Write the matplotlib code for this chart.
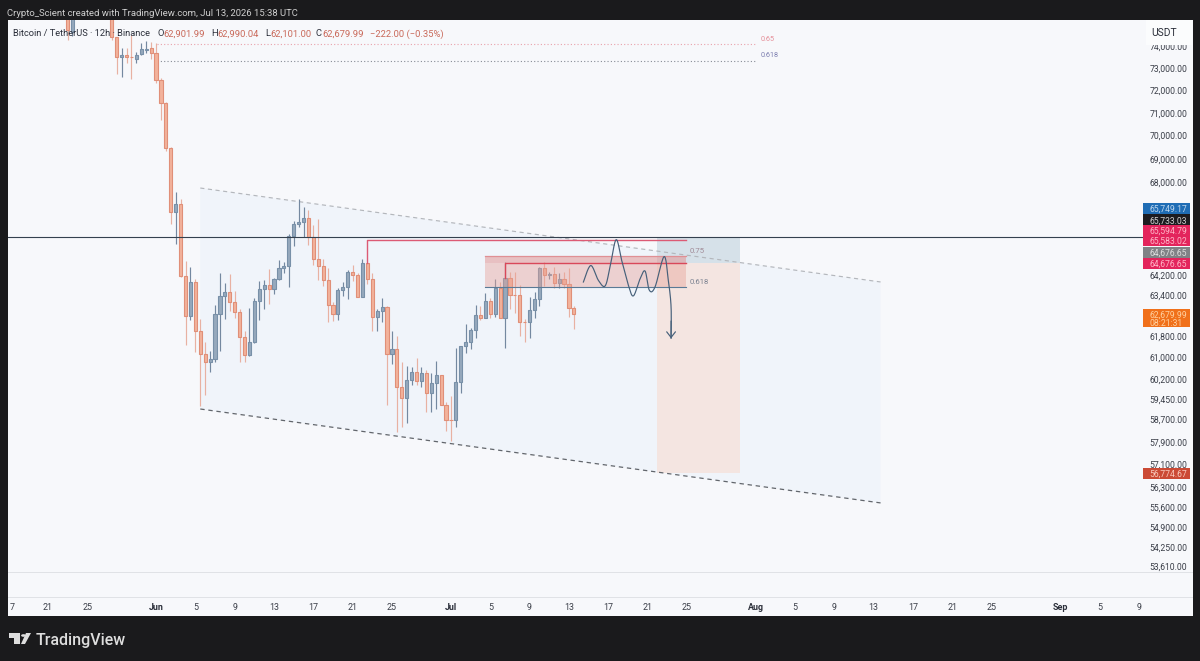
import matplotlib
matplotlib.use("Agg")

import matplotlib.pyplot as plt
import numpy as np
from matplotlib.patches import Circle, Polygon, Rectangle
from matplotlib.ticker import NullLocator

FIG_W, FIG_H = 1200, 661
DARK = "#1a1a1c"
PANEL = "#f7f8fb"

# days counted from Jun 1, one candle every 12 hours
days = [-9, -8.5] + [-4.5 + 0.5 * i for i in range(95)]

opens = [
    75903, 74645, 75900, 74415, 73495, 73585, 73495, 73405, 73630, 73815,
    73905, 73675, 72455, 71435, 69480, 66770, 67086, 64183, 62596, 63927,
    62013, 61123, 60853, 60938, 62674, 63381, 63537, 63142, 62752, 61801,
    61096, 61579, 63166, 63666, 63795, 63639, 64029, 64503, 64583, 65790,
    66262, 66356, 66496, 65725, 64851, 64559, 63990, 63010, 62674, 63600,
    63732, 64343, 64211, 63337, 64691, 64056, 62562, 62797, 62959, 61155,
    61325, 59884, 59491, 60165, 60450, 60106, 60413, 59676, 60032, 60328,
    59250, 58701, 58690, 60080, 61427, 61606, 62051, 62625, 62523, 63181,
    62686, 63693, 62523, 64084, 63427, 63400, 62371, 62360, 62835, 63271,
    64479, 64211, 64239, 63873, 64056, 63834, 62901.99,
]
highs = [
    76140, 76000, 76140, 74415, 73908, 73900, 74510, 73725, 74135, 74230,
    74185, 74135, 72545, 71480, 69525, 67580, 67291, 64783, 64531, 64029,
    62496, 61579, 61254, 63010, 64291, 63900, 64251, 63561, 62854, 62019,
    62908, 63298, 63951, 63990, 64451, 64084, 64823, 64743, 65860, 66397,
    67320, 66990, 66848, 66221, 66467, 64851, 64479, 63142, 63693, 63927,
    64423, 64611, 64291, 64851, 64700, 64291, 62881, 63298, 62990, 62013,
    61833, 60827, 60668, 60630, 61001, 60630, 60535, 60413, 60875, 60350,
    59347, 59552, 61377, 61450, 62268, 62141, 63037, 62986, 63505, 63298,
    64029, 63927, 64719, 64319, 64319, 63795, 62470, 63337, 63537, 64519,
    64719, 64343, 64519, 64291, 64343, 64479, 62990.04,
]
lows = [
    74276, 74460, 74276, 72725, 72590, 73225, 72500, 73225, 73585, 73675,
    73405, 72323, 70691, 69315, 66262, 65455, 64136, 61476, 62431, 61230,
    59192, 59591, 60476, 60827, 61264, 62470, 62776, 62523, 60853, 60827,
    61043, 61541, 62420, 62881, 63076, 63466, 63990, 64279, 63732, 65387,
    66127, 65725, 65415, 64611, 63990, 63771, 62344, 62393, 62420, 63381,
    63244, 63951, 63320, 63360, 63861, 62013, 62013, 62371, 59225, 60753,
    58258, 58427, 58582, 59958, 59958, 59884, 58980, 58980, 59094, 59225,
    58283, 57923, 58427, 59676, 61162, 61325, 61758, 62431, 62500, 62523,
    62562, 62510, 61377, 62881, 62730, 61833, 61606, 61758, 62523, 62986,
    63771, 64056, 63693, 63693, 63693, 62562, 62101.00,
]
closes = [
    74738, 75760, 74415, 73495, 73585, 73495, 73480, 73585, 73860, 73860,
    73675, 72455, 71435, 69480, 66770, 67086, 64183, 62596, 63927, 62013,
    61123, 60853, 60949, 62674, 63381, 63537, 63142, 62752, 61801, 61096,
    61579, 63166, 63666, 63795, 63639, 64029, 64503, 64583, 65790, 66262,
    66356, 66496, 65725, 64851, 64559, 63990, 63010, 62674, 63600, 63732,
    64343, 64211, 63337, 64691, 64056, 62562, 62797, 62959, 61155, 61325,
    59884, 59491, 60165, 60450, 60106, 60413, 59676, 60032, 60328, 59250,
    58701, 58690, 60080, 61427, 61606, 62051, 62625, 62523, 63181, 62686,
    63693, 62523, 64084, 63427, 63400, 62371, 62360, 62835, 63271, 64479,
    64211, 64239, 63873, 64056, 63834, 62901.99, 62679.99,
]

# descending channel drawn on the chart
channel_days = [4.5, 73.7]
channel_upper = [67763, 63929]
channel_lower = [59087, 55745]

# short position and the levels around it
stop_price = 65749.17
last_price_line = 65733.03
resistance_price = 65594.79
entry_price = 64676.65
target_price = 56774.67
zone_top = 64983
zone_bottom = 63720
fib_65 = 74092
fib_618 = 73305

# projected path sketched after the last candle
path_days = [43.47, 44.22, 45.0, 45.68, 46.18, 46.8, 47.37, 48.05, 48.56,
             49.24, 49.75, 50.18, 50.76, 51.68, 52.11, 52.39, 52.39]
path_prices = [63927, 64583, 63990, 63771, 64519, 65627, 64783, 63795, 63381,
               64056, 64359, 63600, 63732, 64943, 63990, 62959, 61731]

price_ticks = [74000, 73000, 72000, 71000, 70000, 69000, 68000, 64200, 63400,
               61800, 61000, 60200, 59450, 58700, 57900, 57100, 56300, 55600,
               54900, 54250, 53610]

date_ticks = [-14.65, -11, -7, 0, 4, 8, 12, 16, 20, 24, 30, 34, 38, 42, 46, 50,
              54, 61, 65, 69, 73, 77, 81, 85, 92, 96, 100]
date_labels = ["7", "21", "25", "Jun", "5", "9", "13", "17", "21", "25", "Jul",
               "5", "9", "13", "17", "21", "25", "Aug", "5", "9", "13", "17",
               "21", "25", "Sep", "5", "9"]
month_names = {"Jun", "Jul", "Aug", "Sep"}

# boxes on the price scale: text, fill, text colour, centre row in pixels
scale_labels = [
    ("65,749.17", "#1f6db5", "#bcd6ee", 208.5),
    ("65,733.03", "#1c1c20", "#cfcfcf", 220),
    ("65,594.79", "#e3245c", "#ffb4c6", 230.5),
    ("65,583.02", "#e3245c", "#ffb4c6", 240.5),
    ("64,676.65", "#808286", "#dedede", 252.5),
    ("64,676.65", "#e3245c", "#ffb4c6", 263.5),
    ("56,774.67", "#cb4a35", "#f9c9bc", 473),
]
clock_label = ("62,679.99", "08:21:31")

plt.rcParams["font.family"] = ["Roboto", "DejaVu Sans"]


def px_x(x):
    return x / FIG_W


def px_y(y):
    return 1 - y / FIG_H


def fig_rect(fig, x0, y0, x1, y1, color, zorder=1):
    fig.add_artist(Rectangle((px_x(x0), px_y(y1)), px_x(x1 - x0), (y1 - y0) / FIG_H,
                             transform=fig.transFigure, facecolor=color,
                             edgecolor="none", zorder=zorder))


def smooth_path(xs, ys, steps=14):
    # Catmull-Rom through the sketched points, in log price so it stays round on screen
    x = np.asarray(xs, dtype=float)
    y = np.log(np.asarray(ys, dtype=float))
    px = np.r_[x[0], x, x[-1]]
    py = np.r_[y[0], y, y[-1]]
    out_x, out_y = [], []
    for i in range(1, len(px) - 2):
        t = np.linspace(0, 1, steps, endpoint=False)
        for arr, out in ((px, out_x), (py, out_y)):
            a, b, c, d = arr[i - 1], arr[i], arr[i + 1], arr[i + 2]
            out.extend(0.5 * (2 * b + (c - a) * t + (2 * a - 5 * b + 4 * c - d) * t ** 2
                              + (3 * b - a - 3 * c + d) * t ** 3))
    out_x.append(x[-1])
    out_y.append(y[-1])
    return np.array(out_x), np.exp(out_y)


def draw_candles(ax):
    d = np.array(days)
    o, h, l, c = map(np.array, (opens, highs, lows, closes))
    up = c >= o
    ax.vlines(d[up], l[up], h[up], color="#7488a0", lw=0.85, zorder=2)
    ax.vlines(d[~up], l[~up], h[~up], color="#e8b1a2", lw=0.85, zorder=2)
    tops = np.maximum(o, c)
    bots = np.minimum(o, c)
    ax.bar(d[up], (tops - bots)[up], bottom=bots[up], width=0.32, facecolor="#96a9bd",
           edgecolor="#7890a8", linewidth=0.8, zorder=2.1)
    ax.bar(d[~up], (tops - bots)[~up], bottom=bots[~up], width=0.32, facecolor="#f3b29b",
           edgecolor="#e08f78", linewidth=0.8, zorder=2.1)


def draw_overlays(ax):
    # channel
    ax.fill(channel_days + channel_days[::-1], channel_upper + channel_lower[::-1],
            facecolor="#f0f4fa", edgecolor="none", zorder=1)
    ax.plot(channel_days, channel_upper, color="#b4b7bc", lw=0.85, ls=(0, (3.5, 3)), zorder=1.5)
    ax.plot(channel_days, channel_lower, color="#62666c", lw=0.9, ls=(0, (3.5, 3)), zorder=1.5)

    # short position
    pos_left, pos_right = 50.93, 59.4
    ax.add_patch(Rectangle((pos_left, entry_price), pos_right - pos_left, stop_price - entry_price,
                           facecolor="#d6e1e9", edgecolor="none", zorder=1.2))
    ax.add_patch(Rectangle((pos_left, target_price), pos_right - pos_left, entry_price - target_price,
                           facecolor="#f4e5e1", edgecolor="none", zorder=1.2))

    # supply zone
    zone_left, zone_right = 33.5, 53.9
    ax.add_patch(Rectangle((zone_left, zone_bottom), zone_right - zone_left, zone_top - zone_bottom,
                           facecolor="#e8a096", alpha=0.42, edgecolor="none", zorder=3))
    ax.add_patch(Rectangle((zone_left, entry_price), zone_right - zone_left, zone_top - entry_price,
                           facecolor="#d9808a", alpha=0.2, edgecolor="none", zorder=3))
    ax.plot([zone_left, zone_right], [zone_top, zone_top], color="#e08f94", lw=0.9, zorder=3.1)
    ax.plot([zone_left, zone_right], [zone_bottom, zone_bottom], color="#5a7a96", lw=0.8, zorder=3.1)

    # levels
    ax.axhline(last_price_line, color="#34414f", lw=0.8, zorder=3.2)
    ax.plot([21.5, 21.5, zone_right], [64691, resistance_price, resistance_price],
            color="#dc5a74", lw=1.0, zorder=3.1)
    ax.plot([35.5, 35.5, zone_right], [64084, entry_price, entry_price],
            color="#d9485a", lw=1.0, zorder=3.1)

    ax.plot([0.07, 60.9], [fib_65, fib_65], color="#e9a2ab", lw=0.8, ls=(0, (1, 2)), zorder=1.5)
    ax.plot([0.07, 60.9], [fib_618, fib_618], color="#878c96", lw=0.8, ls=(0, (1, 2)), zorder=1.5)
    ax.text(61.5, 74320, "0.65", fontsize=5.2, color="#e58e98", va="center")
    ax.text(61.5, 73545, "0.618", fontsize=5.2, color="#7d7fb0", va="center")
    ax.text(54.3, 65170, "0.75", fontsize=5.6, color="#a08a96", va="center", zorder=4)
    ax.text(54.3, 63940, "0.618", fontsize=5.6, color="#7b8291", va="center", zorder=4)

    # sketched path with arrow head
    sx, sy = smooth_path(path_days, path_prices)
    ax.plot(sx, sy, color="#46607a", lw=0.85, zorder=4)
    ax.annotate("", xy=(path_days[-1], path_prices[-1]), xytext=(path_days[-1], 62400),
                arrowprops=dict(arrowstyle="->,head_length=0.45,head_width=0.35", color="#46607a",
                                lw=0.85, mutation_scale=9, shrinkA=0, shrinkB=0), zorder=4)


def draw_scale_labels(fig):
    for text, fill, ink, row in scale_labels:
        fig_rect(fig, 1143, row - 5.5, 1190, row + 5.5, fill)
        fig.text(px_x(1149), px_y(row), text, fontsize=6.2, color=ink, ha="left",
                 va="center_baseline", zorder=3)
    fig_rect(fig, 1143, 309, 1190, 327.5, "#f0701a")
    fig.text(px_x(1149), px_y(314), clock_label[0], fontsize=6.2, color="#ffd0a0",
             ha="left", va="center_baseline", zorder=3)
    fig.text(px_x(1149), px_y(322.5), clock_label[1], fontsize=6.2, color="#ffd0a0",
             ha="left", va="center_baseline", zorder=3)

    fig_rect(fig, 1146, 20, 1192, 44.5, "#fbfcfd")
    fig.text(px_x(1164), px_y(32.5), "USDT", fontsize=7.4, color="#2a2e39",
             ha="center", va="center_baseline", zorder=3)


def draw_header(fig):
    fig.text(px_x(7), px_y(13), "Crypto_Scient created with TradingView.com, Jul 13, 2026 15:38 UTC",
             fontsize=6.8, color="#cfcfcf", va="center_baseline", zorder=3)
    fig.text(px_x(13), px_y(33), "Bitcoin / TetherUS · 12h · Binance", fontsize=6.7,
             color="#2a2e39", va="center_baseline", zorder=3)
    parts = [(157, "O", "#2a2e39"), (163, "62,901.99", "#c9695a"), (211, "H", "#2a2e39"),
             (217, "62,990.04", "#c9695a"), (265, "L", "#2a2e39"), (270, "62,101.00", "#c9695a"),
             (316, "C", "#2a2e39"), (322, "62,679.99", "#c9695a"),
             (370, "−222.00 (−0.35%)", "#c9695a")]
    for x, text, color in parts:
        fig.text(px_x(x), px_y(33), text, fontsize=6.75, color=color, va="center_baseline", zorder=3)


def draw_logo(fig):
    ink = "#dedede"
    fig_rect(fig, 9, 633, 20, 638, ink, zorder=3)
    fig_rect(fig, 14, 633, 20, 644, ink, zorder=3)
    fig.add_artist(Circle((px_x(23.5), px_y(635.5)), 2.4 / FIG_W, transform=fig.transFigure,
                          facecolor=ink, edgecolor="none", zorder=3))
    corners = [(25, 644), (21, 644), (26, 633), (31, 633)]
    fig.add_artist(Polygon([(px_x(x), px_y(y)) for x, y in corners], closed=True,
                           transform=fig.transFigure, facecolor=ink, edgecolor="none", zorder=3))
    fig.text(px_x(36), px_y(639), "TradingView", fontsize=11.5, color=ink, weight="medium",
             family=["Roboto", "DejaVu Sans"], va="center_baseline", zorder=3)


def main():
    fig = plt.figure(figsize=(FIG_W / 100, FIG_H / 100), dpi=100, facecolor=DARK)

    # panel behind the chart and both scales
    fig_rect(fig, 8, 20, 1192.5, 616, PANEL, zorder=-1)

    ax = fig.add_axes([px_x(8), px_y(572), px_x(1145 - 8), (572 - 20) / FIG_H])
    ax.set_facecolor(PANEL)
    ax.set_yscale("log")
    ax.set_xlim(-15.06, 100.6)
    ax.set_ylim(53408, 75202)
    for side in ("top", "left", "right", "bottom"):
        ax.spines[side].set_visible(False)

    draw_overlays(ax)
    draw_candles(ax)

    ax.yaxis.tick_right()
    ax.yaxis.set_minor_locator(NullLocator())
    ax.set_yticks(price_ticks, [f"{p:,.2f}" for p in price_ticks])
    ax.set_xticks(date_ticks, date_labels)
    ax.tick_params(axis="y", length=0, pad=3, labelsize=6.2, labelcolor="#3a3e48")
    ax.tick_params(axis="x", length=0, pad=22, labelsize=6.4, labelcolor="#3a3e48")
    for label in ax.get_xticklabels():
        if label.get_text() in month_names:
            label.set_fontweight("bold")
            label.set_color("#2a2e39")

    # separators under the chart and above the date row
    fig_rect(fig, 8, 571.5, 1192.5, 572.5, "#e0e2e6")
    fig_rect(fig, 8, 596.5, 1192.5, 597.5, "#e0e2e6")

    draw_scale_labels(fig)
    draw_header(fig)
    draw_logo(fig)

    fig.savefig("out.png", dpi=100, facecolor=DARK)
    plt.close(fig)


if __name__ == "__main__":
    main()
